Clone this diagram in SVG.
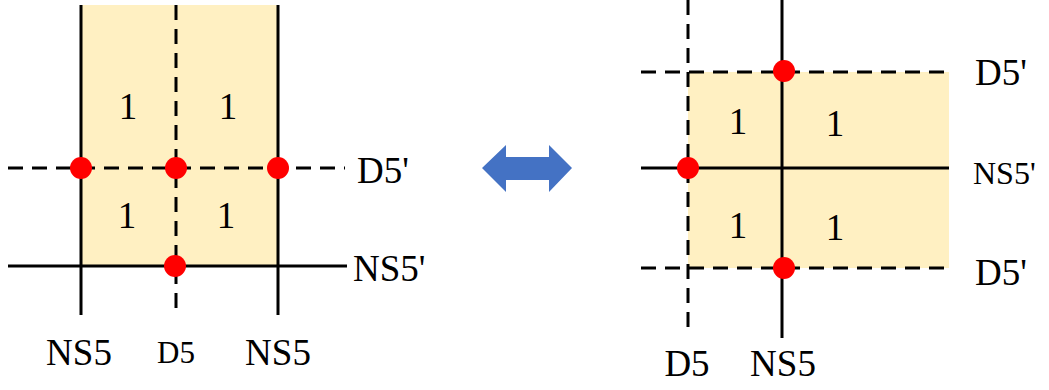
<svg xmlns="http://www.w3.org/2000/svg" width="1049" height="390" viewBox="0 0 1049 390">
<style>
.solid{stroke:#000;stroke-width:3;fill:none}
.dash{stroke:#000;stroke-width:3;fill:none;stroke-dasharray:15 9}
.in{stroke:#2e2600}
.zone{fill:#FFF0C2}
.pt{fill:#FF0000}
text{font-family:"Liberation Serif","Times New Roman",serif;fill:#000}
.lbl{font-size:37px}
.num{font-size:37px;text-anchor:middle}
</style>
<rect width="1049" height="390" fill="#fff"/>
<g id="left-zone">
<rect class="zone" x="81" y="5" width="197" height="261"/>
<text class="num" x="128" y="119">1</text>
<text class="num" x="228" y="119">1</text>
<text class="num" x="127" y="228">1</text>
<text class="num" x="226" y="228">1</text>
</g>
<g id="right-zone">
<rect class="zone" x="688" y="72" width="261" height="196"/>
<text class="num" x="738" y="134">1</text>
<text class="num" x="835" y="136">1</text>
<text class="num" x="738" y="238">1</text>
<text class="num" x="835" y="240">1</text>
</g>
<g id="connectors">
<line class="solid" x1="81" y1="5" x2="81" y2="315"/>
<line class="solid" x1="278" y1="5" x2="278" y2="315"/>
<line class="dash" x1="176" y1="5" x2="176" y2="314"/>
<line class="dash" x1="8" y1="168" x2="345" y2="168"/>
<line class="solid" x1="8" y1="266" x2="347" y2="266"/>
<line class="dash" x1="688" y1="0" x2="688" y2="334"/>
<line class="solid" x1="782" y1="0" x2="782" y2="338"/>
<line class="dash" x1="641" y1="72" x2="949" y2="72"/>
<line class="solid" x1="641" y1="168" x2="949" y2="168"/>
<line class="dash" x1="641" y1="268" x2="949" y2="268"/>
</g>
<g id="left-points">
<circle class="pt" cx="81" cy="168" r="11"/>
<circle class="pt" cx="176" cy="168" r="11"/>
<circle class="pt" cx="278" cy="168" r="11"/>
<circle class="pt" cx="175" cy="266" r="11"/>
</g>
<g id="right-points">
<circle class="pt" cx="784" cy="71" r="11"/>
<circle class="pt" cx="688" cy="168" r="11"/>
<circle class="pt" cx="784" cy="268" r="11"/>
</g>
<g id="left-labels">
<text class="lbl" x="357" y="183">D5'</text>
<text class="lbl" x="353" y="281">NS5'</text>
<text class="lbl" x="79" y="365" text-anchor="middle">NS5</text>
<text x="176" y="363" font-size="31" text-anchor="middle">D5</text>
<text class="lbl" x="278" y="365" text-anchor="middle">NS5</text>
</g>
<g id="right-labels">
<text class="lbl" x="975" y="85">D5'</text>
<text x="973" y="184" font-size="32">NS5'</text>
<text class="lbl" x="975" y="285">D5'</text>
<text class="lbl" x="687" y="376" text-anchor="middle">D5</text>
<text class="lbl" x="783" y="376" text-anchor="middle">NS5</text>
</g>
<g id="arrow">
<polygon fill="#4472C4" points="482,168 506,145 506,157 549,157 549,145 572,168 549,192 549,180 506,180 506,192"/>
</g>
</svg>
